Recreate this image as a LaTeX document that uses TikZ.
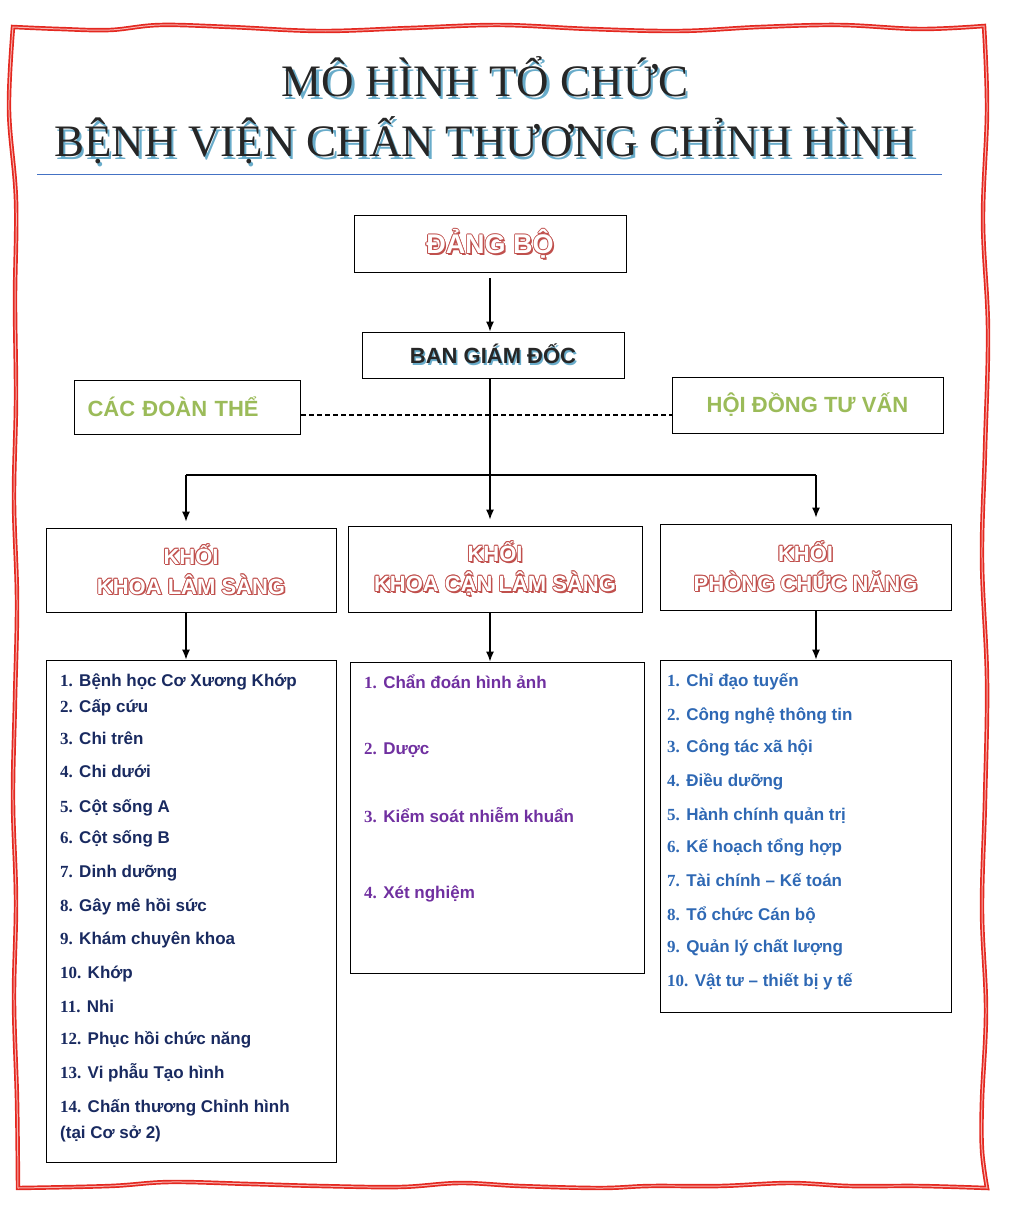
\documentclass[tikz,border=0pt]{standalone}
\usepackage{fontspec}
\setmainfont{Liberation Serif}
\newfontfamily\sansf{Liberation Sans}
\usetikzlibrary{arrows.meta, positioning}

\definecolor{framered}{RGB}{228,40,32}
\definecolor{ruleblue}{RGB}{68,114,196}
\definecolor{shadeblue}{RGB}{105,172,202}
\definecolor{inkdark}{RGB}{38,38,38}
\definecolor{brickred}{RGB}{192,80,77}
\definecolor{leafgreen}{RGB}{155,187,89}
\definecolor{listnavy}{RGB}{25,42,96}
\definecolor{listpurple}{RGB}{112,48,160}
\definecolor{listblue}{RGB}{46,104,180}

% text effects
\newcommand\shifted[3]{\rlap{\kern#1\raise#2\hbox{#3}}}
\newcommand\hollow[2]{\mbox{%
  \shifted{1.6pt}{-1.6pt}{\color{#1}#2}%
  \shifted{-.8pt}{0pt}{\color{#1}#2}\shifted{.8pt}{0pt}{\color{#1}#2}%
  \shifted{0pt}{.8pt}{\color{#1}#2}\shifted{0pt}{-.8pt}{\color{#1}#2}%
  \shifted{-.6pt}{.6pt}{\color{#1}#2}\shifted{.6pt}{.6pt}{\color{#1}#2}%
  \shifted{-.6pt}{-.6pt}{\color{#1}#2}\shifted{.6pt}{-.6pt}{\color{#1}#2}%
  \hbox{\color{white}#2}}}
\newcommand\shadowed[3]{\mbox{\shifted{#2}{-#2}{\color{#1}#3}#3}}
\newcommand\itemno[1]{{\rmfamily\bfseries #1}}

\tikzset{
  box/.style = {rectangle, draw=black, line width=1pt, inner sep=0pt},
  arr/.style = {-{Latex[length=10pt,width=8pt]}, line width=1.1pt},
  link/.style = {line width=1.1pt},
  listitem/.style = {anchor=base west, inner sep=0pt, font=\sansf\bfseries\fontsize{17}{20}\selectfont}
}

\begin{document}
\begin{tikzpicture}[x=1pt, y=-1pt]
\tikzset{
  title/.style = {anchor=base, inner sep=0pt, text=inkdark, font=\fontsize{45}{50}\selectfont},
  block/.style = {box, align=center, font=\sansf\bfseries\fontsize{22}{30}\selectfont},
  side/.style = {box, minimum height=54pt, text=leafgreen, font=\sansf\bfseries\fontsize{22}{26}\selectfont}
}
\useasboundingbox (0,0) rectangle (1012,1214);

% ----- FRAME -----
\draw[framered, line width=1.7pt, double=framered!35, double distance=1pt, line join=miter]
  plot[smooth, tension=0.6] coordinates {(13,27) (60,29) (110,30) (160,25) (230,27) (320,31) (410,28) (500,25) (590,29) (680,31) (760,27) (840,25) (920,29) (984,26)}
  -- plot[smooth, tension=0.6] coordinates {(984,26) (987,110) (983,220) (988,330) (985,450) (982,560) (987,680) (985,800) (982,910) (986,1010) (982,1100) (982,1150) (987,1188)}
  -- plot[smooth, tension=0.6] coordinates {(987,1188) (920,1186) (850,1186) (790,1183) (720,1186) (650,1186) (600,1188) (520,1186) (460,1183) (400,1187) (320,1186) (250,1184) (170,1182) (110,1186) (18,1188)}
  -- plot[smooth, tension=0.6] coordinates {(18,1188) (17,1100) (14,1000) (16,900) (13,800) (15,700) (17,600) (14,500) (16,400) (15,300) (16,200) (9,110) (13,27)}
  -- cycle;

% ----- TITLE -----
\node[title] (title1) at (485,97) {\shadowed{shadeblue}{2.2pt}{MÔ HÌNH TỔ CHỨC}};
\node[title] (title2) at (485,157) {\shadowed{shadeblue}{2.2pt}{BỆNH VIỆN CHẤN THƯƠNG CHỈNH HÌNH}};
\draw[ruleblue, line width=0.8pt] (37,174) -- (942,174);

% ----- TOP -----
\node[box, minimum width=272pt, minimum height=57pt, font=\sansf\bfseries\fontsize{27}{30}\selectfont] (dang) at (490,244.5) {\hollow{brickred}{ĐẢNG BỘ}};
\node[box, minimum width=262pt, minimum height=46pt, text=inkdark, font=\sansf\bfseries\fontsize{22}{26}\selectfont] (bgd) at (493,355) {\shadowed{shadeblue}{1.5pt}{BAN GIÁM ĐỐC}};
\node[side, text width=200pt, inner xsep=13pt, align=left] (doan) at (187.5,407) {CÁC ĐOÀN THỂ};
\node[side, minimum width=271pt, minimum height=56pt] (hoidong) at (807.5,405) {HỘI ĐỒNG TƯ VẤN};

% ----- BLOCKS -----
\node[block, minimum width=290pt, minimum height=84pt] (klam) at (191,570) {\hollow{brickred}{KHỐI}\\\hollow{brickred}{KHOA LÂM SÀNG}};
\node[block, minimum width=294pt, minimum height=86pt] (kcan) at (495,569) {\hollow{brickred}{KHỐI}\\\hollow{brickred}{KHOA CẬN LÂM SÀNG}};
\node[block, minimum width=291pt, minimum height=86pt] (kphong) at (805.5,567) {\hollow{brickred}{KHỐI}\\\hollow{brickred}{PHÒNG CHỨC NĂNG}};

% ----- LISTS -----
\node[box, minimum width=290pt, minimum height=502pt] (llam) at (191,911) {};
\node[box, minimum width=294pt, minimum height=311pt] (lcan) at (497,817.5) {};
\node[box, minimum width=291pt, minimum height=352pt] (lphong) at (805.5,836) {};

\foreach \y/\t [count=\i] in {686/Bệnh học Cơ Xương Khớp, 712/Cấp cứu, 744/Chi trên, 777/Chi dưới,
    812/Cột sống A, 843/Cột sống B, 877/Dinh dưỡng, 911/Gây mê hồi sức, 944/Khám chuyên khoa,
    978/Khớp, 1012/Nhi, 1044/Phục hồi chức năng, 1078/Vi phẫu Tạo hình, 1112/Chấn thương Chỉnh hình}
  \node[listitem, text=listnavy] (lam\i) at (60,\y) {\itemno{\i.} \t};
\node[listitem, text=listnavy] (lam14b) at ([yshift=-26pt]lam14.base west) {(tại Cơ sở 2)};

\foreach \y/\t [count=\i] in {688/Chẩn đoán hình ảnh, 754/Dược, 822/Kiểm soát nhiễm khuẩn, 898/Xét nghiệm}
  \node[listitem, text=listpurple] (can\i) at (364,\y) {\itemno{\i.} \t};

\foreach \y/\t [count=\i] in {686/Chỉ đạo tuyến, 720/Công nghệ thông tin, 752/Công tác xã hội, 786/Điều dưỡng,
    820/Hành chính quản trị, 852/Kế hoạch tổng hợp, 886/Tài chính – Kế toán, 920/Tổ chức Cán bộ,
    952/Quản lý chất lượng, 986/Vật tư – thiết bị y tế}
  \node[listitem, text=listblue] (phong\i) at (667,\y) {\itemno{\i.} \t};

% ----- ARROWS -----
\coordinate (fork) at (490,475);
\coordinate (barL) at (186,475);
\coordinate (barR) at (816,475);
% party to board
\draw[arr, shorten <=5pt] (dang.south) -- (dang.south |- bgd.north);
% board down to the bar
\draw[link] (bgd.south -| fork) -- (fork);
\draw[link] (barL) -- (barR);
% advisory links
\draw[link, dash pattern=on 5pt off 3pt, line width=1.6pt] ([yshift=-8pt]doan.east) -- ([yshift=-8pt]doan.east -| hoidong.west);
% bar to blocks
\draw[arr, shorten >=6pt] (barL) -- (barL |- klam.north);
\draw[arr, shorten >=6pt] (fork) -- (fork |- kcan.north);
\draw[arr, shorten >=6pt] (barR) -- (barR |- kphong.north);
% blocks to lists
\draw[arr] (klam.south -| barL) -- (barL |- llam.north);
\draw[arr] (kcan.south -| fork) -- (fork |- lcan.north);
\draw[arr] (kphong.south -| barR) -- (barR |- lphong.north);

\end{tikzpicture}
\end{document}
